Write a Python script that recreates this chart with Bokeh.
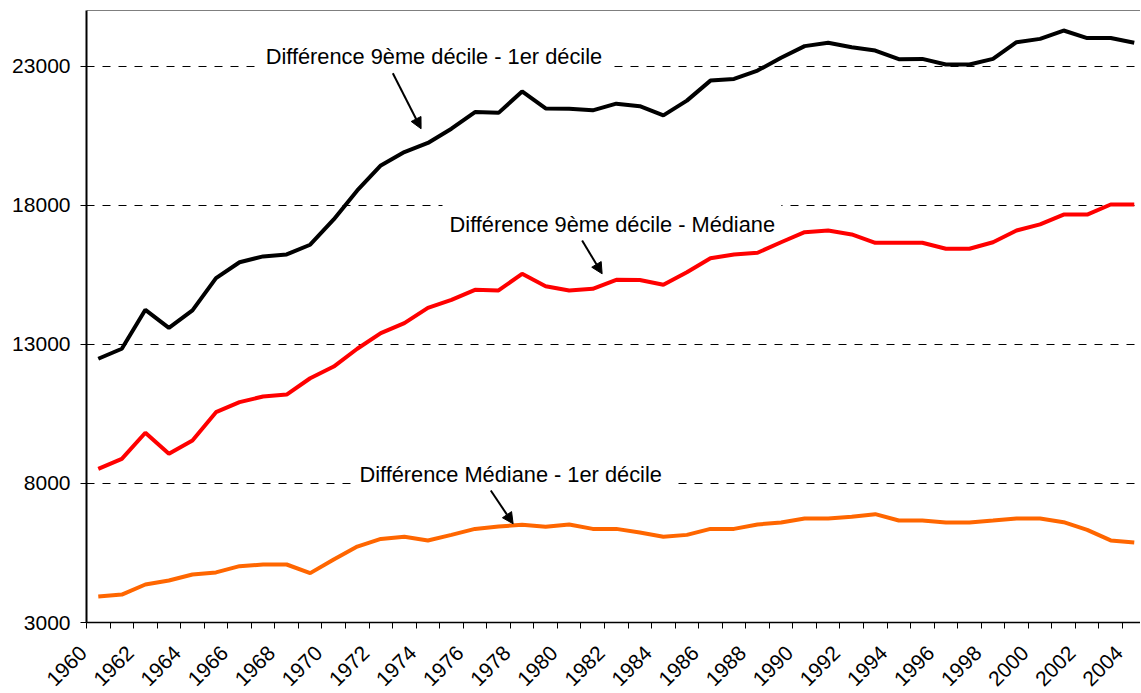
from math import pi
from bokeh.plotting import figure
from bokeh.layouts import column
from bokeh.models import (Range1d, FixedTicker, Span, Label, Arrow, NormalHead)
from bokeh.core.properties import value
from bokeh.embed import file_html
from bokeh.resources import INLINE

# ---------------- data ----------------
years = list(range(1960, 2005))
d9_d1 = [12480, 12840, 14240, 13590, 14220, 15380, 15950, 16160, 16230, 16580,
         17490, 18530, 19430, 19910, 20240, 20750, 21350, 21320, 22090, 21480,
         21470, 21410, 21650, 21560, 21230, 21760, 22480, 22540, 22840, 23300,
         23720, 23840, 23680, 23560, 23250, 23260, 23060, 23060, 23260, 23860,
         23980, 24280, 24010, 24010, 23840]
d9_med = [8525, 8885, 9820, 9065, 9545, 10560, 10920, 11125, 11195, 11780,
          12200, 12840, 13400, 13760, 14310, 14600, 14960, 14935, 15535, 15090,
          14935, 14995, 15320, 15310, 15140, 15590, 16095, 16230, 16290, 16670,
          17030, 17090, 16950, 16650, 16650, 16650, 16435, 16435, 16670, 17090,
          17310, 17665, 17665, 18025, 18025]
med_d1 = [3935, 4005, 4365, 4510, 4725, 4800, 5025, 5085, 5085, 4775,
          5265, 5730, 6005, 6080, 5950, 6150, 6365, 6450, 6510, 6440,
          6525, 6365, 6365, 6235, 6080, 6150, 6365, 6365, 6525, 6595,
          6740, 6740, 6800, 6895, 6665, 6665, 6595, 6595, 6665, 6740,
          6740, 6605, 6330, 5950, 5875]
y_ticks = [3000, 8000, 13000, 18000, 23000]
grid_values = [8000, 13000, 18000, 23000]
label_years = list(range(1960, 2005, 2))

FONT = "Liberation Sans"
Y_MIN, Y_MAX = 3000, 25000
X_START, X_END = 1959.5, 2004.265
LEFT = 86            # px of frame left edge
WIDTH = 1140
YEARS_PER_PX = (X_END - X_START) / (WIDTH - LEFT)

p = figure(width=WIDTH, height=634,
           x_range=Range1d(X_START, X_END), y_range=Range1d(Y_MIN, Y_MAX),
           output_backend="svg", toolbar_location=None,
           min_border_left=LEFT, min_border_right=0, min_border_top=10,
           min_border_bottom=12)
p.outline_line_color = None
p.background_fill_color = "white"
p.border_fill_color = "white"

# grid
p.xgrid.visible = False
p.ygrid.ticker = FixedTicker(ticks=grid_values)
p.ygrid.grid_line_color = "black"
p.ygrid.grid_line_dash = "8 8"
p.ygrid.grid_line_width = 1

# top border
p.add_layout(Span(location=Y_MAX, dimension="width", line_color="black", line_width=1))

# y axis
p.yaxis.ticker = FixedTicker(ticks=y_ticks)
p.yaxis.major_tick_out = 6
p.yaxis.major_tick_in = 0
p.yaxis.minor_tick_out = 0
p.yaxis.minor_tick_in = 0
p.yaxis.axis_line_width = 2
p.yaxis.axis_line_color = "black"
p.yaxis.major_tick_line_color = "black"
p.yaxis.major_label_text_font = FONT
p.yaxis.major_label_text_font_size = "21px"
p.yaxis.major_label_text_color = "black"
p.yaxis.major_label_standoff = 10

# x axis: tick marks between categories (labels drawn in the strip below)
p.xaxis.ticker = FixedTicker(ticks=[],
                             minor_ticks=[y - 0.5 for y in years] + [years[-1] + 0.5])
p.xaxis.major_tick_out = 0
p.xaxis.major_tick_in = 0
p.xaxis.minor_tick_out = 6
p.xaxis.minor_tick_in = 0
p.xaxis.major_label_standoff = 0
p.xaxis.axis_line_width = 1.5
p.xaxis.axis_line_color = "black"
p.xaxis.minor_tick_line_color = "black"

# white boxes behind annotation texts
p.quad(left=[1966.76, 1974.62, 1970.85], right=[1981.76, 1989.01, 1984.39],
       bottom=[22843, 17020, 7925], top=[24101, 18314, 9183],
       fill_color="white", line_color=None)

# series
p.line(years, d9_d1, line_color="black", line_width=4)
p.line(years, d9_med, line_color="#FF0000", line_width=4)
p.line(years, med_d1, line_color="#FF6600", line_width=4)

# annotations
texts = [("Différence 9ème décile - 1er décile", 1967.11, 23347),
         ("Différence 9ème décile - Médiane", 1974.92, 17307),
         ("Différence Médiane - 1er décile", 1971.09, 8320)]
for t, x, y in texts:
    p.add_layout(Label(x=x, y=y, text=t, text_font=FONT, text_font_size="21.8px",
                       text_color="black", text_align="left",
                       text_baseline="alphabetic"))

arrows = [(1972.51, 22746, 1973.71, 20748),
          (1980.55, 16732, 1981.40, 15535),
          (1976.67, 7745, 1977.62, 6548)]
for xs, ys, xe, ye in arrows:
    p.add_layout(Arrow(end=NormalHead(size=11, fill_color="black", line_color="black"),
                       x_start=xs, y_start=ys, x_end=xe, y_end=ye,
                       line_color="black", line_width=2))

# strip below the plot holding the rotated category labels (same x scale)
STRIP_H = 58
p2 = figure(width=WIDTH, height=STRIP_H,
            x_range=Range1d(X_START - LEFT * YEARS_PER_PX, X_END),
            y_range=Range1d(0, STRIP_H),
            output_backend="svg", toolbar_location=None,
            x_axis_location=None, y_axis_location=None,
            min_border=0, min_border_left=0, min_border_right=0,
            min_border_top=0, min_border_bottom=0)
if hasattr(p2, "frame_align"):
    p2.frame_align = False
    p.frame_align = False
p2.outline_line_color = None
p2.grid.visible = False
p2.background_fill_color = "white"
p2.border_fill_color = "white"
p2.text(x=label_years, y=STRIP_H - 10, text=[str(y) for y in label_years],
        angle=pi / 4, x_offset=-20,
        text_align="right", text_baseline="top",
        text_font=value(FONT), text_font_size=value("21px"), text_color="black")

layout = column(p, p2, spacing=0)
open("out.html", "w").write(file_html(layout, INLINE))
